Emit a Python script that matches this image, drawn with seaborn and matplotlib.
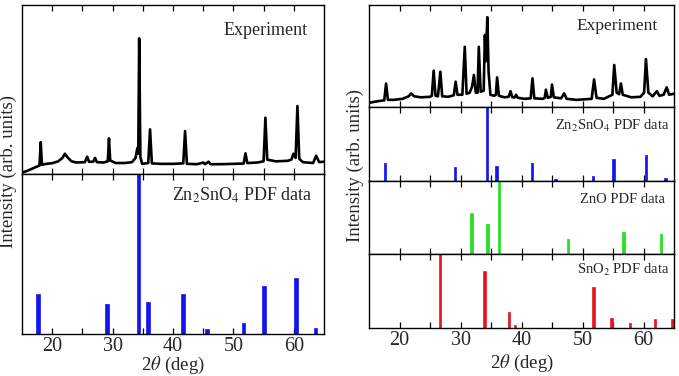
import matplotlib
matplotlib.use('Agg')
import matplotlib.pyplot as plt
import seaborn as sns

left_exp_x = [15.0, 15.8, 16.6, 17.4, 17.9, 18.1, 18.3, 19.0, 20.0, 21.0,
              21.7, 22.1, 22.5, 23.2, 24.0, 25.4, 25.8, 26.1, 26.8, 27.1,
              27.4, 28.5, 29.2, 29.4, 29.6, 30.5, 32.0, 33.2, 33.8, 34.1,
              34.25, 34.4, 34.6, 34.9, 35.9, 36.2, 36.5, 38.0, 40.0, 41.7,
              42.0, 42.3, 44.0, 45.0, 45.3, 45.9, 46.2, 48.0, 50.0, 51.7,
              52.0, 52.3, 54.0, 55.0, 55.3, 55.6, 57.0, 59.0, 59.6, 59.95,
              60.3, 60.6, 60.9, 61.5, 63.2, 63.7, 64.2, 65.0]
left_exp_y = [0.8, 1.8, 3.0, 4.3, 5.0, 18.8, 5.5, 6.0, 6.4, 7.5,
              9.5, 12.0, 10.0, 7.5, 6.8, 7.0, 10.2, 7.2, 7.3, 9.5,
              7.0, 6.8, 7.5, 21.1, 8.0, 6.5, 6.5, 7.0, 9.5, 15.4,
              12.0, 80.3, 10.0, 6.0, 6.5, 26.4, 6.3, 6.0, 6.0, 6.3,
              25.4, 6.0, 5.8, 6.8, 5.8, 7.3, 5.8, 5.8, 6.0, 6.2,
              12.2, 6.5, 6.8, 7.5, 33.3, 8.5, 7.5, 7.8, 8.5, 12.0,
              9.5, 40.2, 9.0, 7.0, 6.5, 10.8, 7.0, 7.3]

right_exp_x = [15.0, 15.8, 16.8, 17.5, 17.8, 18.1, 19.0, 20.5, 21.5, 21.9,
               22.4, 23.5, 25.0, 25.3, 25.6, 25.9, 26.3, 26.7, 27.0, 28.0,
               28.9, 29.2, 29.5, 30.3, 30.7, 31.0, 31.5, 31.9, 32.2, 32.5,
               32.8, 33.0, 33.3, 33.8, 34.0, 34.15, 34.4, 34.6, 34.9, 35.5,
               35.8, 36.0, 36.3, 37.2, 37.9, 38.2, 38.5, 38.9, 39.1, 39.4,
               40.5, 41.5, 41.8, 42.1, 43.5, 43.8, 44.0, 44.3, 44.8, 45.0,
               45.3, 46.5, 47.0, 47.4, 49.0, 51.5, 51.9, 52.3, 53.5, 54.9,
               55.2, 55.6, 56.0, 56.3, 56.6, 58.0, 59.5, 60.1, 60.4, 60.8,
               61.5, 62.2, 62.6, 63.3, 63.8, 64.2, 65.0]
right_exp_y = [4.0, 5.0, 6.0, 6.5, 23.0, 7.0, 7.0, 8.0, 10.5, 13.4,
               10.5, 9.5, 10.0, 11.0, 35.6, 11.0, 10.5, 34.6, 10.5, 10.0,
               11.5, 24.8, 12.0, 12.0, 59.0, 13.0, 14.0, 20.0, 31.4, 14.0,
               14.0, 59.0, 15.0, 16.0, 70.6, 45.0, 88.0, 35.0, 12.0, 11.0,
               12.0, 29.0, 11.0, 9.5, 10.0, 15.5, 9.5, 9.5, 12.0, 9.0,
               8.0, 8.5, 28.1, 8.5, 8.0, 9.0, 17.0, 9.0, 10.0, 22.0,
               9.5, 8.5, 13.4, 8.0, 7.0, 8.0, 27.0, 9.0, 8.0, 12.0,
               41.2, 14.0, 12.5, 23.0, 12.0, 9.5, 10.0, 14.0, 47.0, 14.0,
               10.5, 15.5, 11.0, 12.0, 19.3, 12.0, 13.0]

# Reference PDF stick patterns (relative intensity, %)
zn2sno4_pos = [17.6, 29.1, 34.3, 35.9, 41.7, 45.6, 51.7, 55.1, 60.4, 63.6]
zn2sno4_int = [25, 19, 100, 20, 25, 3, 7, 30, 35, 3.5]
zno_pos = [31.8, 34.4, 36.3, 47.6, 56.7, 62.9]
zno_int = [56, 41, 100, 21, 30, 28]
sno2_pos = [26.6, 33.9, 37.95, 38.97, 51.78, 54.76, 57.82, 61.87, 64.72]
sno2_int = [100, 77, 22, 4.5, 55, 13.5, 7, 12.5, 12.5]

sns.set_theme(style="ticks")
plt.rcParams['font.family'] = ['Liberation Serif', 'DejaVu Serif']
plt.rcParams['mathtext.fontset'] = 'stix'

W, H = 679, 376
fig = plt.figure(figsize=(W / 100, H / 100), dpi=100)


def add_panel(x0, x1, y0, y1, xlabel_pad=None):
    ax = fig.add_axes([x0 / W, 1 - y1 / H, (x1 - x0) / W, (y1 - y0) / H])
    ax.set_xlim(15, 65)
    ax.set_ylim(0, 100)
    ax.set_yticks([])
    ax.set_xticks([20, 30, 40, 50, 60])
    ax.set_xticks([25, 35, 45, 55], minor=True)
    ax.tick_params(axis='x', which='both', direction='in', top=True, bottom=True,
                   length=4, width=0.9, color='black', labelsize=14.5,
                   labelbottom=xlabel_pad is not None, pad=2)
    for s in ax.spines.values():
        s.set_linewidth(1.0)
        s.set_color('black')
    if xlabel_pad is not None:
        ax.set_xlabel(r'2$\theta$ (deg)', fontsize=13.5, labelpad=xlabel_pad)
    return ax


def sticks(ax, pos, inten, width, color):
    ax.bar(pos, inten, width=width, color=color, edgecolor=color, linewidth=0.5)


# Left figure
ax = add_panel(22, 324, 5, 174)
sns.lineplot(x=left_exp_x, y=left_exp_y, ax=ax, color='black', linewidth=1.9)
ax.text(0.947, 0.85, 'Experiment', transform=ax.transAxes, ha='right', va='center', fontsize=13)

ax = add_panel(22, 324, 174, 334, xlabel_pad=-0.5)
sticks(ax, zn2sno4_pos, zn2sno4_int, 0.6, '#1414f0')
ax.text(0.963, 0.87, 'Zn$_2$SnO$_4$ PDF data', transform=ax.transAxes, ha='right', va='center', fontsize=13)

fig.text(8 / W, 1 - 172 / H, 'Intensity (arb. units)', rotation=90, ha='center', va='center', fontsize=13.5)

# Right figure
ax = add_panel(369, 674, 5, 107)
sns.lineplot(x=right_exp_x, y=right_exp_y, ax=ax, color='black', linewidth=1.9)
ax.text(0.948, 0.79, 'Experiment', transform=ax.transAxes, ha='right', va='center', fontsize=12.5)

ax = add_panel(369, 674, 107, 181)
sticks(ax, zn2sno4_pos, zn2sno4_int, 0.4, '#1414f0')
ax.text(0.987, 0.75, 'Zn$_2$SnO$_4$ PDF data', transform=ax.transAxes, ha='right', va='center', fontsize=10.5)

ax = add_panel(369, 674, 181, 254)
sticks(ax, zno_pos, zno_int, 0.4, '#22e022')
ax.text(0.97, 0.75, 'ZnO PDF data', transform=ax.transAxes, ha='right', va='center', fontsize=10.5)

ax = add_panel(369, 674, 254, 328, xlabel_pad=2)
sticks(ax, sno2_pos, sno2_int, 0.4, '#e8141e')
ax.text(0.984, 0.78, 'SnO$_2$ PDF data', transform=ax.transAxes, ha='right', va='center', fontsize=10.5)

fig.text(355 / W, 1 - 166 / H, 'Intensity (arb. units)', rotation=90, ha='center', va='center', fontsize=13.5)

fig.savefig('out.png', dpi=100)
